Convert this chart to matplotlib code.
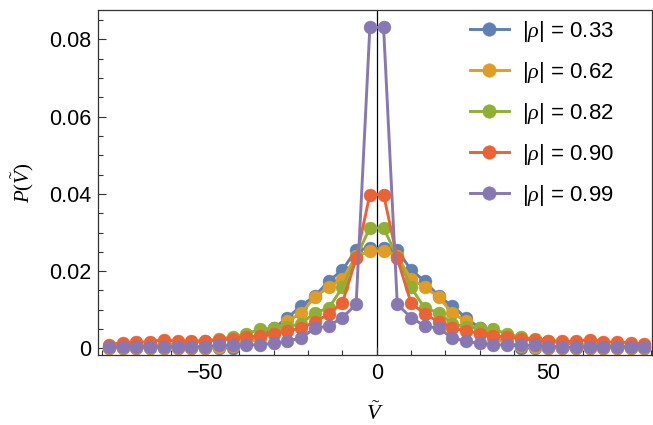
import numpy as np
import matplotlib
matplotlib.use('Agg')
import matplotlib.pyplot as plt

plt.rcParams['font.family'] = ['Liberation Sans', 'DejaVu Sans']
plt.rcParams['mathtext.fontset'] = 'custom'
plt.rcParams['mathtext.rm'] = 'Liberation Serif'
plt.rcParams['mathtext.it'] = 'Liberation Serif:italic'

v_tilde = [-78, -74, -70, -66, -62, -58, -54, -50, -46, -42, -38, -34, -30, -26, -22, -18, -14, -10, -6, -2,
           2, 6, 10, 14, 18, 22, 26, 30, 34, 38, 42, 46, 50, 54, 58, 62, 66, 70, 74, 78]

rho_labels = ['0.33', '0.62', '0.82', '0.90', '0.99']
colors = ['#5E81B5', '#E19C24', '#8FB032', '#EB6235', '#8778B3']

p_033 = [0.0002, 0.0002, 0.0002, 0.0002, 0.0002, 0.0002, 0.0002, 0.0002, 0.0001, 0.0002,
         0.0013, 0.0031, 0.0053, 0.0079, 0.0110, 0.0136, 0.0174, 0.0203, 0.0255, 0.0259,
         0.0259, 0.0255, 0.0203, 0.0174, 0.0136, 0.0110, 0.0079, 0.0053, 0.0031, 0.0013,
         0.0002, 0.0001, 0.0002, 0.0002, 0.0002, 0.0002, 0.0002, 0.0002, 0.0002, 0.0002]
p_062 = [0.0001, 0.0001, 0.0001, 0.0001, 0.0001, 0.0001, 0.0001, 0.0001, 0.0003, 0.0007,
         0.0014, 0.0025, 0.0042, 0.0071, 0.0091, 0.0134, 0.0158, 0.0180, 0.0238, 0.0252,
         0.0252, 0.0238, 0.0180, 0.0158, 0.0134, 0.0091, 0.0071, 0.0042, 0.0025, 0.0014,
         0.0007, 0.0003, 0.0001, 0.0001, 0.0001, 0.0001, 0.0001, 0.0001, 0.0001, 0.0001]
p_082 = [0.0006, 0.0006, 0.0007, 0.0008, 0.0009, 0.0011, 0.0014, 0.0019, 0.0024, 0.0030,
         0.0037, 0.0050, 0.0052, 0.0056, 0.0064, 0.0093, 0.0104, 0.0158, 0.0236, 0.0312,
         0.0312, 0.0236, 0.0158, 0.0104, 0.0093, 0.0064, 0.0056, 0.0052, 0.0050, 0.0037,
         0.0030, 0.0024, 0.0019, 0.0014, 0.0011, 0.0009, 0.0008, 0.0007, 0.0006, 0.0006]
p_090 = [0.0010, 0.0015, 0.0016, 0.0017, 0.0023, 0.0018, 0.0019, 0.0020, 0.0022, 0.0025,
         0.0030, 0.0032, 0.0038, 0.0046, 0.0052, 0.0069, 0.0089, 0.0118, 0.0233, 0.0398,
         0.0398, 0.0233, 0.0118, 0.0089, 0.0069, 0.0052, 0.0046, 0.0038, 0.0032, 0.0030,
         0.0025, 0.0022, 0.0020, 0.0019, 0.0018, 0.0023, 0.0017, 0.0016, 0.0015, 0.0011]
p_099 = [0.0004, 0.0004, 0.0004, 0.0004, 0.0004, 0.0004, 0.0004, 0.0005, 0.0008, 0.0009,
         0.0008, 0.0010, 0.0013, 0.0018, 0.0028, 0.0052, 0.0058, 0.0080, 0.0114, 0.0831,
         0.0831, 0.0114, 0.0080, 0.0058, 0.0052, 0.0028, 0.0018, 0.0013, 0.0010, 0.0008,
         0.0009, 0.0008, 0.0005, 0.0004, 0.0004, 0.0004, 0.0004, 0.0004, 0.0004, 0.0004]

series = [p_033, p_062, p_082, p_090, p_099]

fig = plt.figure(figsize=(6.53, 4.25), dpi=100)
ax = fig.add_axes([98 / 653, 70 / 425, 554 / 653, 345 / 425])

ax.axvline(0, color='black', lw=0.9, zorder=1)

for vals, lab, c in zip(series, rho_labels, colors):
    ax.plot(v_tilde, vals, '-o', color=c, lw=2.1, ms=9.3, mec=c, mew=0.3,
            label='|$\\rho$| = ' + lab, zorder=2)

ax.set_xlim(-81.2, 80.2)
ax.set_ylim(-0.0017, 0.0876)
ax.set_xticks([-50, 0, 50])
ax.set_xticklabels(['\u221250', '0', '50'])
ax.set_xticks(np.arange(-80, 81, 10), minor=True)
ax.set_yticks([0, 0.02, 0.04, 0.06, 0.08])
ax.set_yticklabels(['0', '0.02', '0.04', '0.06', '0.08'])
ax.set_yticks(np.arange(0, 0.086, 0.005), minor=True)
ax.tick_params(which='both', direction='in', labelsize=15.5, width=0.8, color='#333333')
ax.tick_params(which='major', length=6, pad=5)
ax.tick_params(which='minor', length=3.5)
ax.tick_params(axis='x', which='major', pad=6)
for s in ax.spines.values():
    s.set_linewidth(0.9)
    s.set_color('#333333')

ax.set_xlabel('$\\tilde{V}$', fontsize=16, labelpad=13)
ax.set_ylabel('$P(\\tilde{V})$', fontsize=15, labelpad=9)

ax.legend(loc='upper left', bbox_to_anchor=(470 / 653, 1 - 19 / 425), bbox_transform=fig.transFigure,
          frameon=False, fontsize=16, handlelength=1.75, handletextpad=0.6, labelspacing=0.72,
          borderpad=0, borderaxespad=0, markerscale=1.05)

plt.savefig('out.png', dpi=100)
